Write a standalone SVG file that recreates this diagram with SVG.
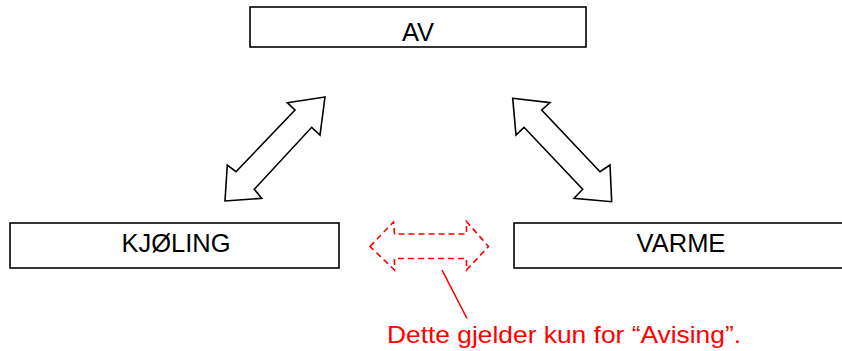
<svg xmlns="http://www.w3.org/2000/svg" width="842" height="351" viewBox="0 0 842 351">
<style>
.box{fill:#fff;stroke:#000;stroke-width:1.6}
.lbl{font-family:"Liberation Sans",Arial,sans-serif;font-size:25.5px;fill:#000;text-anchor:middle}
.dbl{fill:#fff;stroke:#000;stroke-width:1.6;stroke-linejoin:miter}
.red{fill:none;stroke:#ff0000;stroke-width:1.6;stroke-dasharray:6 4}
.note{font-family:"Liberation Sans",Arial,sans-serif;font-size:24px;fill:#ff0000}
</style>
<rect width="842" height="351" fill="#fff"/>
<g id="av">
<rect class="box" x="250" y="7" width="336" height="40"/>
<text class="lbl" x="418" y="41">AV</text>
</g>
<g id="kjoling">
<rect class="box" x="10" y="223" width="329" height="45"/>
<text class="lbl" x="176" y="252">KJØLING</text>
</g>
<g id="varme">
<rect class="box" x="514" y="223" width="340" height="45"/>
<text class="lbl" x="681" y="252">VARME</text>
</g>
<g id="connectors">
<polygon class="dbl" points="325,97 287.3,102.7 295,110 236,171.7 227.3,165 225,201 261.7,198.3 254.3,189.3 311.7,127.3 320,135"/>
<polygon class="dbl" points="512.7,98.3 550,102.7 541.7,110 600,171.7 610,165 611.7,201.7 574,198.3 582.7,189.3 524,127.3 516,135"/>
<polygon class="red" points="370,246.5 393.5,222 394.5,234 466.5,234 466.5,221.5 488.5,246.5 466.5,270 466.5,258.5 394.5,258.5 394.5,270"/>
<line x1="442" y1="270" x2="467" y2="318.5" stroke="#ff0000" stroke-width="1.6"/>
</g>
<g id="note">
<text class="note" x="387" y="343.3" textLength="354" lengthAdjust="spacingAndGlyphs">Dette gjelder kun for “Avising”.</text>
</g>
</svg>
